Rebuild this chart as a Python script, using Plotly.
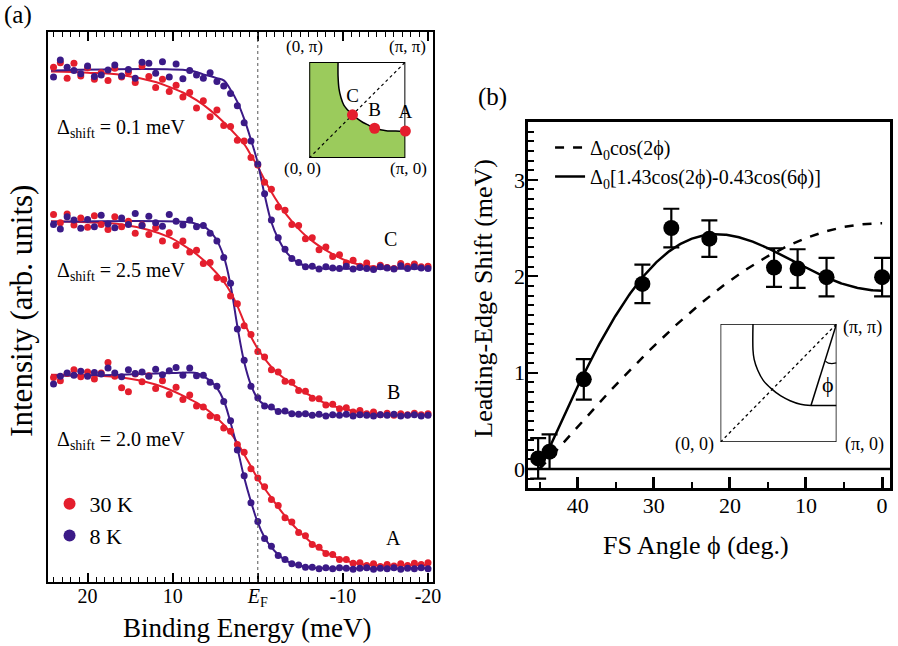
import numpy as np
import plotly.graph_objects as go

RED = "#E41E2D"
PURPLE = "#3B1A87"
GREEN = "#9BCB5C"
SERIF = "Liberation Serif, Times New Roman, serif"

# ---------------- Panel (a): leading-edge spectra ----------------
# binding energy grid of the measured points (meV)
energy = [24.0, 23.2, 22.4, 21.6, 20.8, 20.0, 19.2, 18.4, 17.6, 16.8, 16.0, 15.2, 14.4, 13.6,
          12.8, 12.0, 11.2, 10.4, 9.6, 8.8, 8.0, 7.2, 6.4, 5.6, 4.8, 4.0, 3.2, 2.4, 1.6, 0.8,
          0.0, -0.8, -1.6, -2.4, -3.2, -4.0, -4.8, -5.6, -6.4, -7.2, -8.0, -8.8, -9.6, -10.4,
          -11.2, -12.0, -12.8, -13.6, -14.4, -15.2, -16.0, -16.8, -17.6, -18.4, -19.2, -20.0]

# intensities (arb. units, spectra offset vertically)
c_8K = [91.8, 94.9, 93.6, 93.0, 92.4, 93.8, 91.9, 92.2, 93.1, 94.0, 92.0, 93.2, 91.6, 94.5,
        94.3, 92.5, 94.6, 91.8, 94.2, 91.5, 93.0, 92.2, 91.6, 92.6, 91.0, 90.2, 88.8, 86.6, 83.5, 80.2,
        76.0, 70.6, 65.8, 62.6, 60.5, 58.8, 58.1, 57.3, 57.4, 56.9, 57.3, 57.1, 57.0, 57.4,
        56.9, 57.2, 57.0, 56.8, 57.3, 57.1, 56.9, 57.5, 57.0, 57.3, 57.1, 57.0]
c_30K = [93.6, 94.4, 91.6, 94.3, 92.0, 93.5, 91.4, 92.6, 91.2, 93.4, 91.8, 92.7, 90.8, 93.8,
         91.9, 89.9, 91.4, 89.2, 90.3, 88.2, 89.0, 86.2, 87.5, 84.6, 85.8, 83.0, 82.8, 80.3, 80.2, 77.2,
         75.8, 72.7, 71.4, 68.2, 67.6, 65.0, 64.8, 62.4, 62.6, 60.4, 60.9, 59.2, 59.5, 58.0,
         58.5, 57.4, 58.0, 57.0, 57.6, 57.2, 57.0, 57.9, 57.4, 57.8, 57.3, 57.4]
b_8K = [65.0, 64.2, 66.4, 65.8, 64.3, 65.9, 64.6, 66.7, 65.1, 64.4, 66.2, 65.0, 67.0, 64.8,
        66.5, 65.3, 64.7, 66.8, 65.6, 64.9, 65.8, 64.6, 64.8, 63.4, 62.0, 59.0, 54.3, 46.0, 40.3, 35.6,
        33.5, 32.0, 31.8, 31.0, 31.1, 30.6, 30.5, 30.6, 30.3, 30.5, 30.2, 30.4, 30.3, 30.5,
        30.2, 30.4, 30.3, 30.2, 30.4, 30.3, 30.5, 30.2, 30.3, 30.4, 30.2, 30.3]
b_30K = [66.8, 65.3, 66.9, 64.9, 66.2, 64.5, 66.6, 65.0, 64.1, 66.4, 64.6, 65.6, 63.4, 64.9,
         63.2, 64.4, 62.0, 63.5, 61.2, 62.0, 60.0, 60.3, 57.9, 58.1, 55.3, 55.0, 52.0, 50.6, 46.6, 45.0,
         41.9, 40.9, 38.6, 38.2, 36.5, 36.3, 34.8, 34.7, 33.4, 33.3, 32.2, 32.3, 31.5, 31.7,
         30.9, 31.2, 30.6, 30.9, 30.4, 30.7, 30.3, 30.6, 30.4, 30.7, 30.4, 30.6]
a_8K = [36.0, 37.4, 38.0, 37.6, 38.3, 37.4, 38.1, 37.8, 38.9, 38.0, 37.3, 38.6, 37.9, 38.2,
        37.4, 38.7, 37.7, 38.4, 39.0, 37.6, 38.9, 37.5, 37.6, 36.3, 35.6, 32.8, 29.3, 24.0, 19.3, 14.4,
        11.0, 7.9, 6.5, 4.8, 4.1, 3.3, 3.1, 2.7, 2.7, 2.4, 2.6, 2.4, 2.6, 2.5,
        2.3, 2.5, 2.6, 2.3, 2.5, 2.4, 2.6, 2.3, 2.5, 2.4, 2.6, 2.4]
a_30K = [37.2, 36.6, 37.9, 38.6, 37.3, 38.2, 36.9, 38.0, 39.9, 37.4, 35.3, 34.6, 37.8, 36.4,
         37.5, 35.2, 36.6, 34.1, 35.4, 33.2, 34.0, 32.0, 31.8, 30.2, 29.9, 28.0, 27.4, 25.0, 23.6, 20.6,
         18.9, 17.3, 15.0, 13.9, 11.7, 10.9, 9.0, 8.4, 6.8, 6.3, 5.2, 5.0, 4.1, 4.1,
         3.4, 3.5, 3.0, 3.3, 2.8, 3.2, 2.9, 3.3, 3.0, 3.4, 3.2, 3.5]

# fitted leading-edge curves (energy knots, intensity)
fit_c_8K_e = [24.3, 8, 6.4, 4.8, 4.0, 3.2, 2.4, 1.6, 0.8, 0, -0.8, -1.6, -2.4, -3.2, -4.0, -4.8,
              -5.6, -6.4, -8, -20.2]
fit_c_8K = [93.0, 93.0, 92.3, 91.6, 91.2, 89.5, 87.3, 84.2, 80.4, 76.2, 70.4, 65.4, 62.4, 60.3,
            58.9, 58.0, 57.5, 57.2, 57.0, 57.0]
fit_c_30K_e = [24.3, 20, 16, 12, 10.4, 8.8, 7.2, 5.6, 4.0, 2.4, 1.6, 0.8, 0, -0.8, -1.6, -2.4,
               -3.2, -4.0, -4.8, -5.6, -6.4, -7.2, -8.8, -10.4, -12, -13.6, -16, -20.2]
fit_c_30K = [92.8, 92.6, 92.2, 90.9, 90.0, 89.0, 87.6, 85.8, 83.6, 81.0, 79.6, 77.6, 75.5, 73.1,
             70.9, 68.9, 67.1, 65.6, 64.2, 63.0, 62.0, 61.1, 59.6, 58.4, 57.7, 57.3, 57.1, 57.1]
fit_b_8K_e = [24.3, 8, 7, 6, 5, 4, 3.2, 2.4, 1.6, 0.8, 0, -0.8, -1.6, -2.4, -3.2, -4, -5, -6, -20.2]
fit_b_8K = [65.5, 65.4, 65.0, 64.3, 62.6, 59.2, 54.0, 46.5, 40.0, 35.8, 33.3, 32.2, 31.6, 31.2,
            30.9, 30.7, 30.5, 30.4, 30.3]
fit_b_30K_e = [24.3, 20, 16, 12.8, 10.4, 8.8, 7.2, 5.6, 4.0, 3.2, 2.4, 1.6, 0.8, 0, -0.8, -1.6,
               -2.4, -3.2, -4.0, -4.8, -5.6, -6.4, -7.2, -8.0, -8.8, -9.6, -10.4, -12, -13.6, -16, -20.2]
fit_b_30K = [65.6, 65.4, 65.0, 64.0, 62.7, 61.3, 59.6, 57.4, 54.6, 52.7, 50.2, 47.2, 44.6, 42.4,
             40.6, 39.1, 37.9, 36.9, 36.0, 35.2, 34.4, 33.7, 33.0, 32.5, 32.0, 31.7, 31.4, 30.9,
             30.6, 30.4, 30.4]
fit_a_8K_e = [24.3, 16, 10, 8, 7.2, 6.4, 5.6, 4.8, 4.0, 3.2, 2.4, 1.6, 0.8, 0, -0.8, -1.6, -2.4,
              -3.2, -4.0, -4.8, -5.6, -6.4, -8, -20.2]
fit_a_8K = [37.5, 37.7, 38.0, 38.1, 38.0, 37.4, 36.6, 35.3, 33.0, 29.0, 24.3, 19.0, 14.6, 10.8,
            8.1, 6.3, 5.0, 4.0, 3.4, 3.0, 2.8, 2.6, 2.5, 2.5]
fit_a_30K_e = [24.3, 20, 16, 14, 12, 10.4, 8.8, 7.2, 5.6, 4.0, 3.2, 2.4, 1.6, 0.8, 0, -0.8, -1.6,
               -2.4, -3.2, -4.0, -4.8, -5.6, -6.4, -7.2, -8.0, -8.8, -9.6, -10.4, -11.2, -12,
               -12.8, -13.6, -16, -20.2]
fit_a_30K = [37.7, 37.6, 37.2, 36.7, 35.9, 35.0, 33.9, 32.6, 30.9, 28.6, 27.1, 25.3, 23.2, 21.0,
             18.8, 17.0, 15.3, 13.6, 12.0, 10.6, 9.3, 8.1, 7.0, 6.1, 5.4, 4.8, 4.3, 3.9, 3.5, 3.3,
             3.1, 3.0, 3.0, 3.1]

a_xticks = [20, 10, 0, -10, -20]
a_xticklabels = ["20", "10", "<i>E</i><sub>F</sub>", "-10", "-20"]

# ---------------- Panel (b): leading-edge shift vs FS angle ----------------
phi_data = [45.2, 43.7, 39.2, 31.5, 27.7, 22.7, 14.2, 11.1, 7.3, 0.0]
shift_data = [0.11, 0.18, 0.93, 1.92, 2.50, 2.39, 2.09, 2.08, 1.99, 1.99]
shift_err = [0.21, 0.18, 0.21, 0.20, 0.20, 0.19, 0.20, 0.20, 0.20, 0.20]
delta0_simple = 2.55   # meV, simple d-wave
delta0_higher = 1.85   # meV, with higher harmonic
b_yticks = [0, 1, 2, 3]
b_xticks = [40, 30, 20, 10, 0]

phi = np.linspace(45.0, 0.0, 300)
rad = np.deg2rad(phi)
gap_simple = delta0_simple * np.cos(2 * rad)
gap_higher = delta0_higher * (1.43 * np.cos(2 * rad) - 0.43 * np.cos(6 * rad))

# ---------------- Inset geometry (unit square = quarter zone) ----------------
fs_a_x = [0.30, 0.30, 0.31, 0.33, 0.36, 0.40, 0.45, 0.50, 0.56, 0.62, 0.68, 0.74, 0.80, 0.90, 1.0]
fs_a_y = [1.0, 0.85, 0.72, 0.63, 0.55, 0.50, 0.45, 0.41, 0.37, 0.34, 0.31, 0.295, 0.285, 0.28, 0.28]
kpts_x = [0.45, 0.68, 1.0]
kpts_y = [0.45, 0.31, 0.28]
kpts_lbl = ["C", "B", "A"]

fs_b_x = [0.28, 0.28, 0.29, 0.32, 0.37, 0.44, 0.52, 0.60, 0.69, 0.78, 1.0]
fs_b_y = [1.0, 0.78, 0.70, 0.61, 0.52, 0.45, 0.39, 0.35, 0.32, 0.31, 0.31]
ray_b_x = [1.0, 0.78]
ray_b_y = [1.0, 0.31]
arc_b_x = [0.905, 0.93, 0.96, 1.0]
arc_b_y = [0.685, 0.668, 0.664, 0.67]
box_x = [0, 1, 1, 0, 0]
box_y = [0, 0, 1, 1, 0]

fig = go.Figure()

# spectra (a)
series = [
    (c_30K, fit_c_30K_e, fit_c_30K, RED, False, "30 K"),
    (c_8K, fit_c_8K_e, fit_c_8K, PURPLE, False, "8 K"),
    (b_30K, fit_b_30K_e, fit_b_30K, RED, False, "30 K"),
    (b_8K, fit_b_8K_e, fit_b_8K, PURPLE, False, "8 K"),
    (a_30K, fit_a_30K_e, fit_a_30K, RED, True, "30 K"),
    (a_8K, fit_a_8K_e, fit_a_8K, PURPLE, True, "8 K"),
]
for pts, fe, fv, col, show, name in series:
    fig.add_trace(go.Scatter(x=fe, y=fv, mode="lines", line=dict(color=col, width=2, shape="spline"),
                             showlegend=False, hoverinfo="skip", xaxis="x", yaxis="y"))
for pts, fe, fv, col, show, name in series:
    fig.add_trace(go.Scatter(x=energy, y=pts, mode="markers", marker=dict(color=col, size=7),
                             name=name, showlegend=show, legend="legend2", xaxis="x", yaxis="y"))

# inset (a)
fig.add_trace(go.Scatter(x=[0] + fs_a_x + [1, 0], y=[1] + fs_a_y + [0, 0], fill="toself",
                         fillcolor=GREEN, mode="none", showlegend=False, xaxis="x3", yaxis="y3"))
fig.add_trace(go.Scatter(x=fs_a_x, y=fs_a_y, mode="lines", line=dict(color="black", width=1.5, shape="spline"),
                         showlegend=False, xaxis="x3", yaxis="y3"))
fig.add_trace(go.Scatter(x=[0, 1], y=[0, 1], mode="lines", line=dict(color="black", width=1.2, dash="dot"),
                         showlegend=False, xaxis="x3", yaxis="y3"))
fig.add_trace(go.Scatter(x=box_x, y=box_y, mode="lines", line=dict(color="black", width=2),
                         showlegend=False, xaxis="x3", yaxis="y3"))
fig.add_trace(go.Scatter(x=kpts_x, y=kpts_y, mode="markers+text", text=kpts_lbl, textposition="top center",
                         textfont=dict(family=SERIF, size=19, color="black"),
                         marker=dict(color=RED, size=11), showlegend=False, xaxis="x3", yaxis="y3",
                         cliponaxis=False))

# panel (b) curves and data
fig.add_trace(go.Scatter(x=phi, y=gap_simple, mode="lines", line=dict(color="black", width=2.5, dash="dash"),
                         name="Δ<sub>0</sub>cos(2ϕ)", xaxis="x2", yaxis="y2", legend="legend"))
fig.add_trace(go.Scatter(x=phi, y=gap_higher, mode="lines", line=dict(color="black", width=2.5),
                         name="Δ<sub>0</sub>[1.43cos(2ϕ)-0.43cos(6ϕ)]", xaxis="x2", yaxis="y2", legend="legend"))
fig.add_trace(go.Scatter(x=phi_data, y=shift_data, mode="markers",
                         marker=dict(color="black", size=16),
                         error_y=dict(type="data", array=shift_err, color="black", thickness=2.2, width=8),
                         showlegend=False, xaxis="x2", yaxis="y2"))

# inset (b)
for xs, ys, dash, w in [(box_x, box_y, "solid", 1.5), (fs_b_x, fs_b_y, "solid", 1.5),
                        (ray_b_x, ray_b_y, "solid", 1.5), (arc_b_x, arc_b_y, "solid", 1.2),
                        ([0, 1], [0, 1], "dot", 1.3)]:
    fig.add_trace(go.Scatter(x=xs, y=ys, mode="lines",
                             line=dict(color="black", width=w, dash=dash,
                                       shape="spline" if xs is fs_b_x else "linear"),
                             showlegend=False, xaxis="x4", yaxis="y4"))

W, H = 898, 646
def px(x): return x / W
def py(y): return 1 - y / H

ann = []
def label(x, y, text, size, xref="paper", yref="paper", xanchor="center", angle=0):
    ann.append(dict(x=x, y=y, xref=xref, yref=yref, text=text, showarrow=False,
                    font=dict(family=SERIF, size=size, color="black"),
                    xanchor=xanchor, yanchor="middle", textangle=angle))

label(px(18), py(15), "(a)", 25)
label(px(497), py(97), "(b)", 25)
label(px(249), py(628), "Binding Energy (meV)", 27)
label(px(21), py(311), "Intensity (arb. units)", 31, angle=-90)
label(px(702), py(545), "FS Angle ϕ (deg.)", 26)
label(px(487), py(298), "Leading-Edge Shift (meV)", 26, angle=-90)
label(23.8, 82.5, "Δ<sub>shift</sub> = 0.1 meV", 20, xref="x", yref="y", xanchor="left")
label(23.8, 56.4, "Δ<sub>shift</sub> = 2.5 meV", 20, xref="x", yref="y", xanchor="left")
label(23.8, 25.8, "Δ<sub>shift</sub> = 2.0 meV", 20, xref="x", yref="y", xanchor="left")
label(-15.6, 62.4, "C", 20, xref="x", yref="y")
label(-15.9, 34.5, "B", 20, xref="x", yref="y")
label(-16.0, 8.0, "A", 20, xref="x", yref="y")
# inset (a) corner labels
label(px(307), py(47), "(0, π)", 17)
label(px(411), py(47), "(π, π)", 17)
label(px(305), py(168), "(0, 0)", 17)
label(px(412), py(168), "(π, 0)", 17)
# inset (b) corner labels
label(px(870), py(327), "(π, π)", 18)
label(px(701), py(444), "(0, 0)", 18)
label(px(872), py(444), "(π, 0)", 18)
label(px(835), py(384), "ϕ", 22)

fig.update_layout(
    width=W, height=H, margin=dict(l=0, r=0, t=0, b=0),
    paper_bgcolor="white", plot_bgcolor="white",
    font=dict(family=SERIF, color="black"),
    annotations=ann,
    shapes=[
        dict(type="line", xref="x", yref="y domain", x0=0, x1=0, y0=0, y1=1,
             line=dict(color="#555555", width=1, dash="dot")),
        dict(type="line", xref="x2 domain", yref="y2", x0=0, x1=1, y0=0, y1=0,
             line=dict(color="black", width=2.5)),
    ],
    xaxis=dict(domain=[px(48), px(437)], range=[24.7, -20.6], anchor="y",
               showline=True, linecolor="black", linewidth=1.5, mirror="allticks",
               ticks="inside", ticklen=9, tickwidth=1.5, tickcolor="black",
               tickvals=a_xticks, ticktext=a_xticklabels, ticklabelstandoff=-5,
               tickfont=dict(family=SERIF, size=20, color="black"),
               minor=dict(dtick=1, tick0=0, ticks="inside", ticklen=5, tickwidth=1, tickcolor="black"),
               showgrid=False, zeroline=False),
    yaxis=dict(domain=[py(582), py(32)], range=[0, 100], anchor="x",
               showline=True, linecolor="black", linewidth=1.5, mirror=True,
               ticks="", showticklabels=False, showgrid=False, zeroline=False),
    xaxis2=dict(domain=[px(533), 1.0], range=[46.5, -1.04], anchor="y2",
                showline=True, linecolor="black", linewidth=2.5, mirror=True,
                ticks="inside", ticklen=11, tickwidth=2.5, tickcolor="black",
                tickvals=b_xticks, ticklabelstandoff=-4,
                tickfont=dict(family=SERIF, size=22, color="black"),
                minor=dict(dtick=5, tick0=0, ticks="inside", ticklen=6, tickwidth=2, tickcolor="black"),
                showgrid=False, zeroline=False),
    yaxis2=dict(domain=[py(488), py(122)], range=[-0.197, 3.6], anchor="x2",
                showline=True, linecolor="black", linewidth=2.5, mirror=True,
                ticks="inside", ticklen=10, tickwidth=2, tickcolor="black",
                tickvals=b_yticks, ticklabelstandoff=-4,
                tickfont=dict(family=SERIF, size=22, color="black"),
                minor=dict(dtick=0.1, tick0=0, ticks="inside", ticklen=6, tickwidth=1.5, tickcolor="black"),
                showgrid=False, zeroline=False),
    xaxis3=dict(domain=[px(312), px(409)], range=[0, 1], anchor="y3", visible=False),
    yaxis3=dict(domain=[py(158), py(62)], range=[0, 1], anchor="x3", visible=False),
    xaxis4=dict(domain=[px(727), px(844)], range=[0, 1], anchor="y4", visible=False),
    yaxis4=dict(domain=[py(442), py(324)], range=[0, 1], anchor="x4", visible=False),
    legend=dict(x=px(555), y=py(128), xanchor="left", yanchor="top",
                bgcolor="rgba(0,0,0,0)", font=dict(family=SERIF, size=20, color="black"),
                tracegroupgap=0, itemwidth=30),
    legend2=dict(x=px(50), y=py(483), xanchor="left", yanchor="top", itemsizing="constant",
                 bgcolor="rgba(0,0,0,0)", font=dict(family=SERIF, size=22, color="black")),
)

fig.write_html("out.html")
